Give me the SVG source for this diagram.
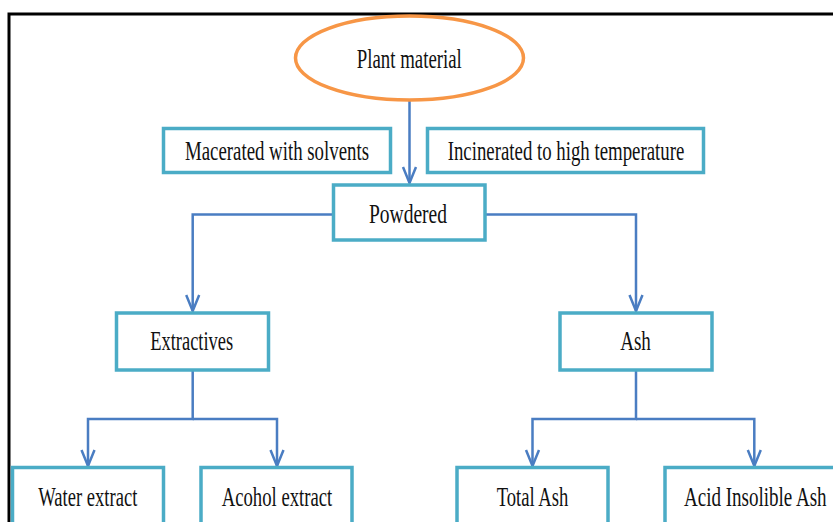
<svg xmlns="http://www.w3.org/2000/svg" width="833" height="522" viewBox="0 0 833 522">
  <defs>
    <style>
      .box { fill: #ffffff; stroke: #4BACC6; stroke-width: 3.5; }
      .ell { fill: #ffffff; stroke: #F79646; stroke-width: 3.5; }
      .lbl { font-family: "Liberation Serif", "Times New Roman", serif; font-size: 27px; fill: #111111; text-anchor: middle; }
      .con { fill: none; stroke: #4A7DC2; stroke-width: 2.5; }
    </style>
    <marker id="arr" markerUnits="userSpaceOnUse" markerWidth="22" markerHeight="18" viewBox="0 0 22 18" refX="18" refY="9" orient="auto">
      <path d="M2,2.5 L18,9 L2,15.5" fill="none" stroke="#4A7DC2" stroke-width="2.5"/>
    </marker>
  </defs>
  <rect width="833" height="522" fill="#ffffff"/>
  <rect x="9" y="14" width="900" height="600" fill="none" stroke="#000000" stroke-width="3"/>

  <g id="connectors">
    <path class="con" d="M409.5,100 V183" marker-end="url(#arr)"/>
    <path class="con" d="M333.5,214.5 H192.7 V311" marker-end="url(#arr)"/>
    <path class="con" d="M485,214.5 H636 V311" marker-end="url(#arr)"/>
    <path class="con" d="M192.7,370 V419 H88 V466" marker-end="url(#arr)"/>
    <path class="con" d="M192.7,419 H277 V466" marker-end="url(#arr)"/>
    <path class="con" d="M636,370 V419 H532.5 V466" marker-end="url(#arr)"/>
    <path class="con" d="M636,419 H754.3 V466" marker-end="url(#arr)"/>
  </g>

  <g id="plant">
    <ellipse class="ell" cx="409.5" cy="58" rx="114" ry="42"/>
    <text class="lbl" x="409.3" y="68" font-size="28" textLength="105" lengthAdjust="spacingAndGlyphs">Plant material</text>
  </g>
  <g id="macerated">
    <rect class="box" x="163.5" y="128.5" width="227" height="44"/>
    <text class="lbl" x="277" y="159.5" textLength="184" lengthAdjust="spacingAndGlyphs">Macerated with solvents</text>
  </g>
  <g id="incinerated">
    <rect class="box" x="427.5" y="128.5" width="276" height="44"/>
    <text class="lbl" x="566" y="159.5" textLength="236.6" lengthAdjust="spacingAndGlyphs">Incinerated to high temperature</text>
  </g>
  <g id="powdered">
    <rect class="box" x="333.5" y="185" width="151.5" height="55"/>
    <text class="lbl" x="408" y="223" textLength="78" lengthAdjust="spacingAndGlyphs">Powdered</text>
  </g>
  <g id="extractives">
    <rect class="box" x="116.5" y="313" width="152" height="57"/>
    <text class="lbl" x="191.7" y="350" textLength="83" lengthAdjust="spacingAndGlyphs">Extractives</text>
  </g>
  <g id="ash">
    <rect class="box" x="560" y="313" width="152" height="57"/>
    <text class="lbl" x="635.5" y="350" textLength="30.7" lengthAdjust="spacingAndGlyphs">Ash</text>
  </g>
  <g id="water">
    <rect class="box" x="12.5" y="467.5" width="151" height="70"/>
    <text class="lbl" x="87.8" y="506" textLength="99" lengthAdjust="spacingAndGlyphs">Water extract</text>
  </g>
  <g id="alcohol">
    <rect class="box" x="201" y="467.5" width="151" height="70"/>
    <text class="lbl" x="277" y="506" textLength="110.6" lengthAdjust="spacingAndGlyphs">Acohol extract</text>
  </g>
  <g id="totalash">
    <rect class="box" x="457" y="467.5" width="151" height="70"/>
    <text class="lbl" x="532.5" y="506" textLength="71.6" lengthAdjust="spacingAndGlyphs">Total Ash</text>
  </g>
  <g id="acid">
    <rect class="box" x="665" y="467.5" width="180" height="70"/>
    <text class="lbl" x="755.3" y="506" textLength="142.7" lengthAdjust="spacingAndGlyphs">Acid Insolible Ash</text>
  </g>
</svg>
